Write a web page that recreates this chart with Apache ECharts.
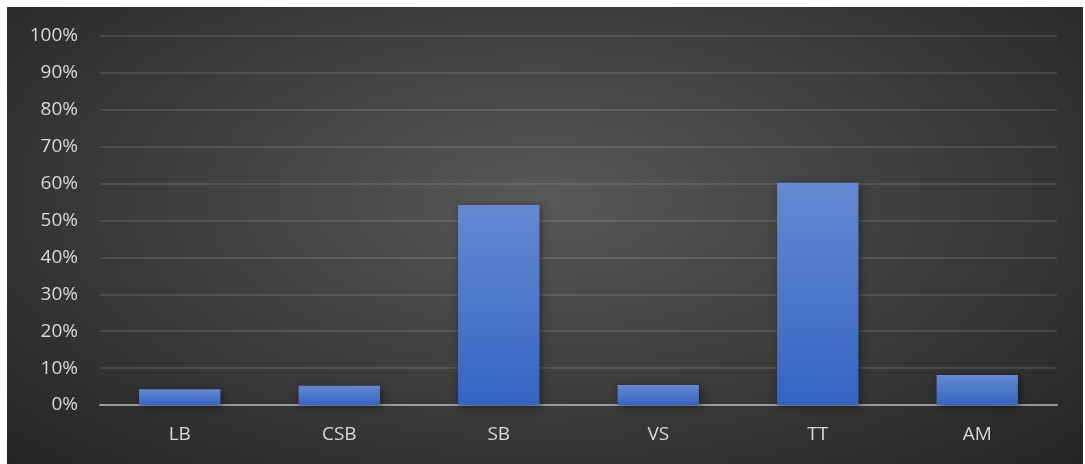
<!DOCTYPE html>
<html>
<head>
<meta charset="utf-8">
<script src="https://cdn.jsdelivr.net/npm/echarts@6/dist/echarts.min.js"></script>
<style>
  html, body { margin: 0; padding: 0; background: #ffffff; }
  #chart {
    position: absolute; left: 7px; top: 7px; width: 1076px; height: 457px;
    background: radial-gradient(ellipse farthest-corner at 50% 42%, #585858 0%, #404040 45%, #242424 100%);
  }
</style>
</head>
<body>
<div id="chart"></div>
<script>
// Share of each category (percent)
const categories = ['LB', 'CSB', 'SB', 'VS', 'TT', 'AM'];
const shares = [4.3, 5.2, 54.2, 5.4, 60.2, 8.1];
const yTicks = [0, 10, 20, 30, 40, 50, 60, 70, 80, 90, 100];

const chart = echarts.init(document.getElementById('chart'));

const labelFont = { color: '#d9d9d9', fontSize: 19, fontFamily: 'Open Sans, Noto Sans, sans-serif' };

chart.setOption({
  animation: false,
  backgroundColor: 'transparent',
  grid: { left: 93, right: 26, top: 29, bottom: 59, containLabel: false },
  xAxis: {
    type: 'category',
    data: categories,
    axisTick: { show: false },
    axisLine: { lineStyle: { color: '#9a9a9a', width: 2 } },
    axisLabel: Object.assign({ margin: 20 }, labelFont)
  },
  yAxis: {
    type: 'value',
    min: yTicks[0],
    max: yTicks[yTicks.length - 1],
    interval: 10,
    axisLine: { show: false },
    axisTick: { show: false },
    splitLine: { lineStyle: { color: 'rgba(255,255,255,0.11)', width: 2 } },
    axisLabel: Object.assign({ margin: 22, formatter: v => v + '%' }, labelFont)
  },
  series: [{
    type: 'bar',
    data: shares,
    barWidth: '51%',
    itemStyle: {
      color: new echarts.graphic.LinearGradient(0, 0, 0, 1, [
        { offset: 0, color: '#6589d2' },
        { offset: 1, color: '#3465c2' }
      ]),
      shadowColor: 'rgba(0,0,0,0.45)',
      shadowBlur: 8,
      shadowOffsetX: 2,
      shadowOffsetY: 2
    }
  }]
});
</script>
</body>
</html>
